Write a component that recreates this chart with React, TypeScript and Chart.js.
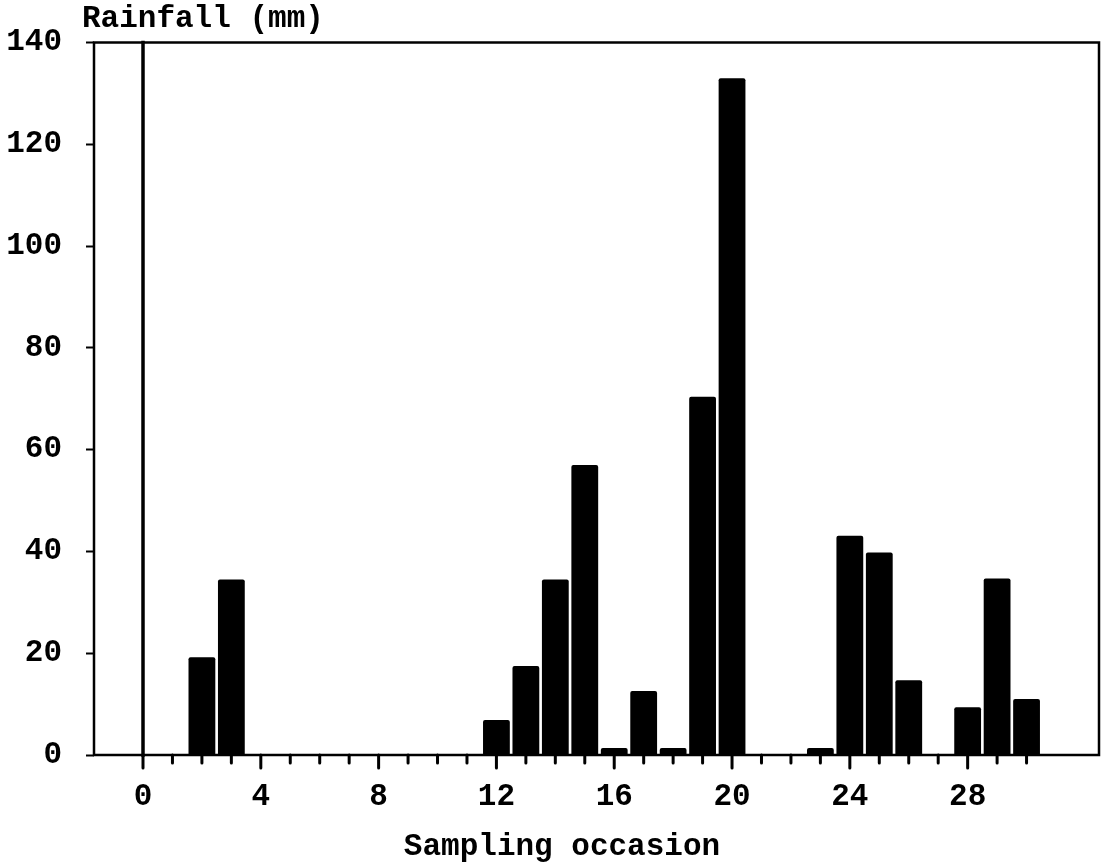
import React, { useEffect, useRef } from "react";
import { Chart, registerables } from "chart.js";

Chart.register(...registerables);

const occasions = [2, 3, 12, 13, 14, 15, 16, 17, 18, 19, 20, 23, 24, 25, 26, 28, 29, 30];
const rainfall = [19.2, 34.5, 6.9, 17.5, 34.5, 57, 1.4, 12.6, 1.4, 70.4, 133, 1.4, 43.1, 39.8, 14.7, 9.4, 34.7, 11];
const yTicks = [0, 20, 40, 60, 80, 100, 120, 140];
const xMajorTicks = [0, 4, 8, 12, 16, 20, 24, 28];
const xMinorTicks = Array.from({ length: 31 }, (_, i) => i);

const yTitle = "Rainfall (mm)";
const xTitle = "Sampling occasion";
const FONT = "'Liberation Mono', 'DejaVu Sans Mono', monospace";
const FONT_SIZE = 31;

const framePlugin = {
  id: "framePlugin",
  afterDraw(chart: any) {
    const { ctx, chartArea } = chart;
    const xs = chart.scales.x;
    const { left, right, top, bottom } = chartArea;
    ctx.save();
    ctx.strokeStyle = "#000";
    ctx.lineCap = "square";
    // frame
    ctx.lineWidth = 2.5;
    ctx.beginPath();
    ctx.moveTo(left, bottom);
    ctx.lineTo(left, top);
    ctx.lineTo(right, top);
    ctx.lineTo(right, bottom);
    ctx.lineTo(left, bottom);
    ctx.stroke();
    // zero line
    const x0 = xs.getPixelForValue(0);
    ctx.lineWidth = 3.5;
    ctx.beginPath();
    ctx.moveTo(x0, top);
    ctx.lineTo(x0, bottom);
    ctx.stroke();
    // x ticks
    ctx.lineCap = "round";
    ctx.lineWidth = 3;
    xMinorTicks.forEach((v) => {
      const px = xs.getPixelForValue(v);
      const len = xMajorTicks.includes(v) ? 13 : 8;
      ctx.beginPath();
      ctx.moveTo(px, bottom);
      ctx.lineTo(px, bottom + len);
      ctx.stroke();
    });
    // titles
    ctx.fillStyle = "#000";
    ctx.font = `bold ${FONT_SIZE}px ${FONT}`;
    ctx.textBaseline = "alphabetic";
    ctx.textAlign = "left";
    ctx.fillText(yTitle, 82, 27);
    ctx.textAlign = "center";
    ctx.fillText(xTitle, 562, 855);
    ctx.restore();
  },
};

export default function App() {
  const ref = useRef<HTMLCanvasElement>(null);
  useEffect(() => {
    if (!ref.current) return;
    const chart = new Chart(ref.current, {
      type: "bar",
      data: {
        datasets: [
          {
            data: occasions.map((x, i) => ({ x, y: rainfall[i] })),
            backgroundColor: "#000",
            borderWidth: 0,
            borderRadius: 2,
            borderSkipped: "bottom",
            barPercentage: 0.91,
            categoryPercentage: 1,
          },
        ],
      },
      options: {
        responsive: false,
        animation: false,
        layout: { padding: { top: 41, right: 2, left: 0, bottom: 0 } },
        plugins: { legend: { display: false }, tooltip: { enabled: false } },
        scales: {
          x: {
            type: "linear",
            offset: false,
            min: -1.664,
            max: 32.46,
            grid: { display: false, drawTicks: false, offset: false },
            border: { display: false },
            afterFit: (s: any) => {
              s.height = 109;
            },
            afterBuildTicks: (s: any) => {
              s.ticks = xMajorTicks.map((v) => ({ value: v }));
            },
            ticks: {
              autoSkip: false,
              maxRotation: 0,
              padding: 24,
              color: "#000",
              font: { family: FONT, size: FONT_SIZE, weight: "bold" },
              callback: (v: any) => String(v),
            },
          },
          y: {
            min: 0,
            max: 140,
            grid: {
              drawOnChartArea: false,
              drawTicks: true,
              tickLength: 8,
              tickWidth: 2,
              tickColor: "#000",
            },
            border: { display: false },
            afterFit: (s: any) => {
              s.width = 94;
            },
            afterBuildTicks: (s: any) => {
              s.ticks = yTicks.map((v) => ({ value: v }));
            },
            ticks: {
              padding: 24,
              color: "#000",
              font: { family: FONT, size: FONT_SIZE, weight: "bold" },
            },
          },
        },
      },
      plugins: [framePlugin],
    } as any);
    return () => chart.destroy();
  }, []);
  return (
    <canvas
      ref={ref}
      width={1101}
      height={864}
      style={{ position: "absolute", left: 0, top: 0, width: 1101, height: 864 }}
    />
  );
}
